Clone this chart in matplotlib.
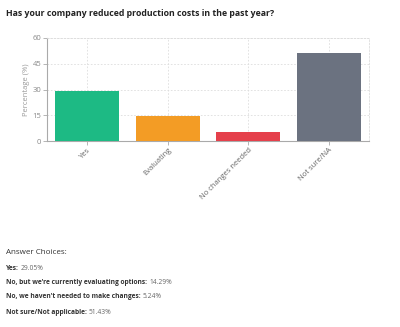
import matplotlib
matplotlib.use("Agg")
import matplotlib.pyplot as plt

categories = ["Yes", "Evaluating", "No changes needed", "Not sure/NA"]
values = [29.05, 14.29, 5.24, 51.43]
colors = ["#1dba84", "#f39c25", "#e5404b", "#6b7280"]
yticks = [0, 15, 30, 45, 60]
title = "Has your company reduced production costs in the past year?"
answer_labels = ["Yes:", "No, but we're currently evaluating options:",
                 "No, we haven't needed to make changes:", "Not sure/Not applicable:"]
answer_values = ["29.05%", "14.29%", "5.24%", "51.43%"]

plt.rcParams['font.family'] = ['Open Sans', 'DejaVu Sans']

W, H = 400, 327
fig = plt.figure(figsize=(W / 100, H / 100), dpi=100)
ax = fig.add_axes([47 / W, 1 - 141 / H, (369 - 47) / W, (141 - 38) / H])

x = list(range(len(categories)))
ax.bar(x, values, width=0.8, color=colors, zorder=3)
ax.set_xlim(-0.5, 3.5)
ax.set_ylim(0, 60)
ax.set_yticks(yticks)
ax.set_xticks(x)
ax.set_xticklabels(categories, rotation=45, ha="right", rotation_mode="anchor",
                   fontsize=5.5, color="#666666")
ax.tick_params(axis="y", labelsize=5.5, labelcolor="#888888", length=3, color="#aaaaaa", width=0.6, pad=1)
ax.tick_params(axis="x", length=3, color="#aaaaaa", width=0.6, pad=1)
ax.grid(True, linestyle=(0, (2, 2)), color="#dddddd", linewidth=0.6, zorder=0)
for s in ["left", "bottom"]:
    ax.spines[s].set_color("#aaaaaa")
    ax.spines[s].set_linewidth(0.8)
for s in ["top", "right"]:
    ax.spines[s].set_color("#dddddd")
    ax.spines[s].set_linestyle((0, (2, 2)))
    ax.spines[s].set_linewidth(0.6)
ax.set_ylabel("Percentage (%)", fontsize=5.5, color="#999999", labelpad=2)

fig.text(6 / W, 1 - 13 / H, title, fontsize=6.3, color="#222222", fontweight="bold",
         va="center", ha="left")

fig.text(6 / W, 1 - 253 / H, "Answer Choices:", fontsize=5.8, color="#333333", va="center", ha="left")
ys = [268, 283, 297, 312]
r = fig.canvas.get_renderer()
for lab, val, yy in zip(answer_labels, answer_values, ys):
    t = fig.text(6 / W, 1 - yy / H, lab, fontsize=4.75, color="#333333", fontweight="bold",
                 va="center", ha="left")
    bb = t.get_window_extent(renderer=r)
    fig.text((bb.x1 + 2) / W, 1 - yy / H, val, fontsize=4.75, color="#666666",
             va="center", ha="left")

fig.savefig("out.png", dpi=100)
